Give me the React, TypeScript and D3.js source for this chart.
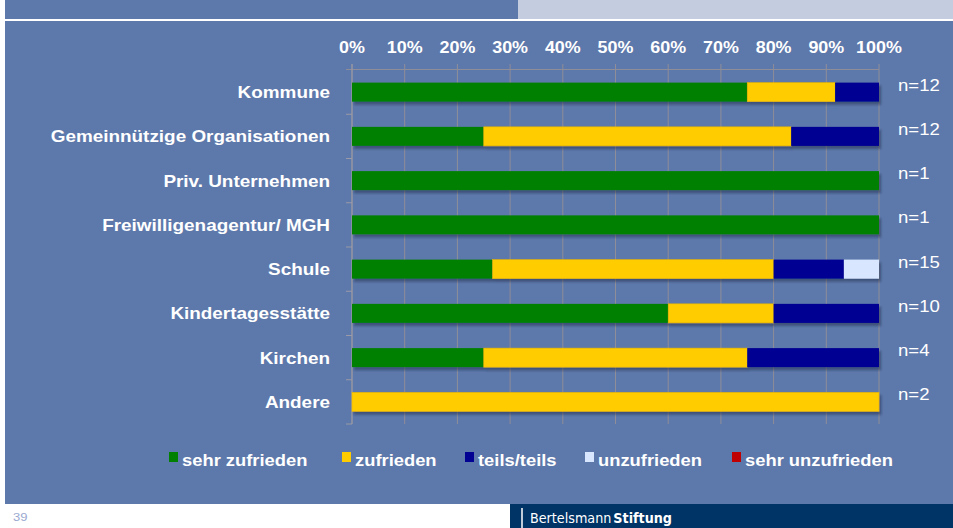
import React from 'react';
import * as d3 from 'd3';

// Zufriedenheit nach Art der Einrichtung (Anzahl Nennungen)
const categories = [
  'Kommune',
  'Gemeinnützige Organisationen',
  'Priv. Unternehmen',
  'Freiwilligenagentur/ MGH',
  'Schule',
  'Kindertagesstätte',
  'Kirchen',
  'Andere',
];
const nValues = [12, 12, 1, 1, 15, 10, 4, 2];

const seriesNames = ['sehr zufrieden', 'zufrieden', 'teils/teils', 'unzufrieden', 'sehr unzufrieden'];
const seriesColors = ['#008000', '#FFCC00', '#000092', '#D8E7FF', '#C00000'];

const sehrZufrieden = [9, 3, 1, 1, 4, 6, 1, 0];
const zufrieden = [2, 7, 0, 0, 8, 2, 2, 2];
const teilsTeils = [1, 2, 0, 0, 2, 2, 1, 0];
const unzufrieden = [0, 0, 0, 0, 1, 0, 0, 0];
const sehrUnzufrieden = [0, 0, 0, 0, 0, 0, 0, 0];

const tickValues = [0, 0.1, 0.2, 0.3, 0.4, 0.5, 0.6, 0.7, 0.8, 0.9, 1];

const W = 953;
const H = 528;
const BG = '#5D78AA';
const FONT = '"Liberation Sans", Arial, Helvetica, sans-serif';

// legend marker positions (layout)
const legendX = [169, 342, 465, 585, 732];

export default function App() {
  const allSeries = [sehrZufrieden, zufrieden, teilsTeils, unzufrieden, sehrUnzufrieden];

  // table of shares per category
  const rows = categories.map((c, i) => {
    const r: any = { cat: c };
    seriesNames.forEach((s, j) => {
      r[s] = allSeries[j][i] / nValues[i];
    });
    return r;
  });
  const stacked = d3.stack().keys(seriesNames)(rows);

  const x = d3.scaleLinear().domain([0, 1]).range([352, 879]);
  const y = d3.scaleBand().domain(categories).range([70, 424]).paddingInner(0.57).paddingOuter(0.285);
  const step = y.step();

  return (
    <svg width={W} height={H} style={{ position: 'fixed', left: 0, top: 0, display: 'block' }}>
      <defs>
        <filter id="shadow" x="-5%" y="-50%" width="110%" height="220%">
          <feDropShadow dx="2" dy="3" stdDeviation="1.2" floodColor="#1a2440" floodOpacity="0.45" />
        </filter>
      </defs>
      <rect x={0} y={0} width={W} height={H} fill="#ffffff" />
      {/* header strip */}
      <rect x={5} y={0} width={513} height={19} fill={BG} />
      <rect x={518} y={0} width={W - 518} height={19} fill="#C4CDE0" />
      {/* main panel */}
      <rect x={5} y={21} width={W - 5} height={483} fill={BG} />

      {/* gridlines */}
      {tickValues.map((t) => (
        <line key={'g' + t} x1={x(t)} x2={x(t)} y1={64} y2={424} stroke="#8F8E98" strokeWidth={1} />
      ))}
      <line x1={346} x2={879} y1={69.5} y2={69.5} stroke="#8F8E98" strokeWidth={1} />
      <line x1={352} x2={352} y1={64} y2={424} stroke="#9A9AA8" strokeWidth={1} />
      {categories.map((c, i) => (
        <line key={'t' + c} x1={346} x2={352} y1={70 + step * (i + 1)} y2={70 + step * (i + 1)} stroke="#9A9AA8" strokeWidth={1} />
      ))}

      {/* top axis labels */}
      {tickValues.map((t) => (
        <text key={'l' + t} transform={`translate(${x(t)},53) scale(1.12,1)`} textAnchor="middle"
          fontFamily={FONT} fontWeight="bold" fontSize={16} fill="#ffffff">
          {d3.format('.0%')(t)}
        </text>
      ))}

      {/* bars */}
      <g filter="url(#shadow)">
        {stacked.map((s, j) =>
          s.map((d, i) =>
            d[1] - d[0] > 0 ? (
              <rect key={s.key + i} x={x(d[0])} y={y(categories[i])!} width={x(d[1]) - x(d[0])}
                height={y.bandwidth()} fill={seriesColors[j]}
                stroke={j === 1 ? '#E6B400' : 'none'} strokeWidth={0.6} />
            ) : null
          )
        )}
      </g>

      {/* category labels */}
      {categories.map((c) => (
        <text key={'c' + c} transform={`translate(330,${y(c)! + y.bandwidth() / 2 + 6}) scale(1.16,1)`}
          textAnchor="end" fontFamily={FONT} fontWeight="bold" fontSize={16.3} fill="#ffffff">
          {c}
        </text>
      ))}

      {/* n labels */}
      {categories.map((c, i) => (
        <text key={'n' + c} transform={`translate(898,${y(c)! + y.bandwidth() / 2 - 1.5}) scale(1.16,1)`}
          fontFamily={FONT} fontSize={16} fill="#ffffff">
          {'n=' + nValues[i]}
        </text>
      ))}

      {/* legend */}
      {seriesNames.map((s, j) => (
        <g key={'lg' + s}>
          <rect x={legendX[j]} y={452} width={9} height={10} fill={seriesColors[j]} />
          <text transform={`translate(${legendX[j] + 13},465.5) scale(1.08,1)`} fontFamily={FONT}
            fontWeight="bold" fontSize={17} fill="#ffffff">
            {s}
          </text>
        </g>
      ))}

      {/* footer */}
      <text transform="translate(13,521) scale(1.3,1)" fontFamily={FONT} fontSize={10} fill="#9AA8D0">39</text>
      <rect x={510} y={504} width={W - 510} height={24} fill="#003366" />
      <line x1={522} x2={522} y1={508} y2={528} stroke="#ffffff" strokeWidth={1.5} />
      <text x={530} y={523} fontFamily='"DejaVu Sans Condensed", "DejaVu Sans", sans-serif' fontSize={14}
        fill="#ffffff" textLength={142} lengthAdjust="spacingAndGlyphs">
        <tspan>Bertelsmann</tspan>
        <tspan fontWeight="bold" dx={2}>Stiftung</tspan>
      </text>
    </svg>
  );
}
